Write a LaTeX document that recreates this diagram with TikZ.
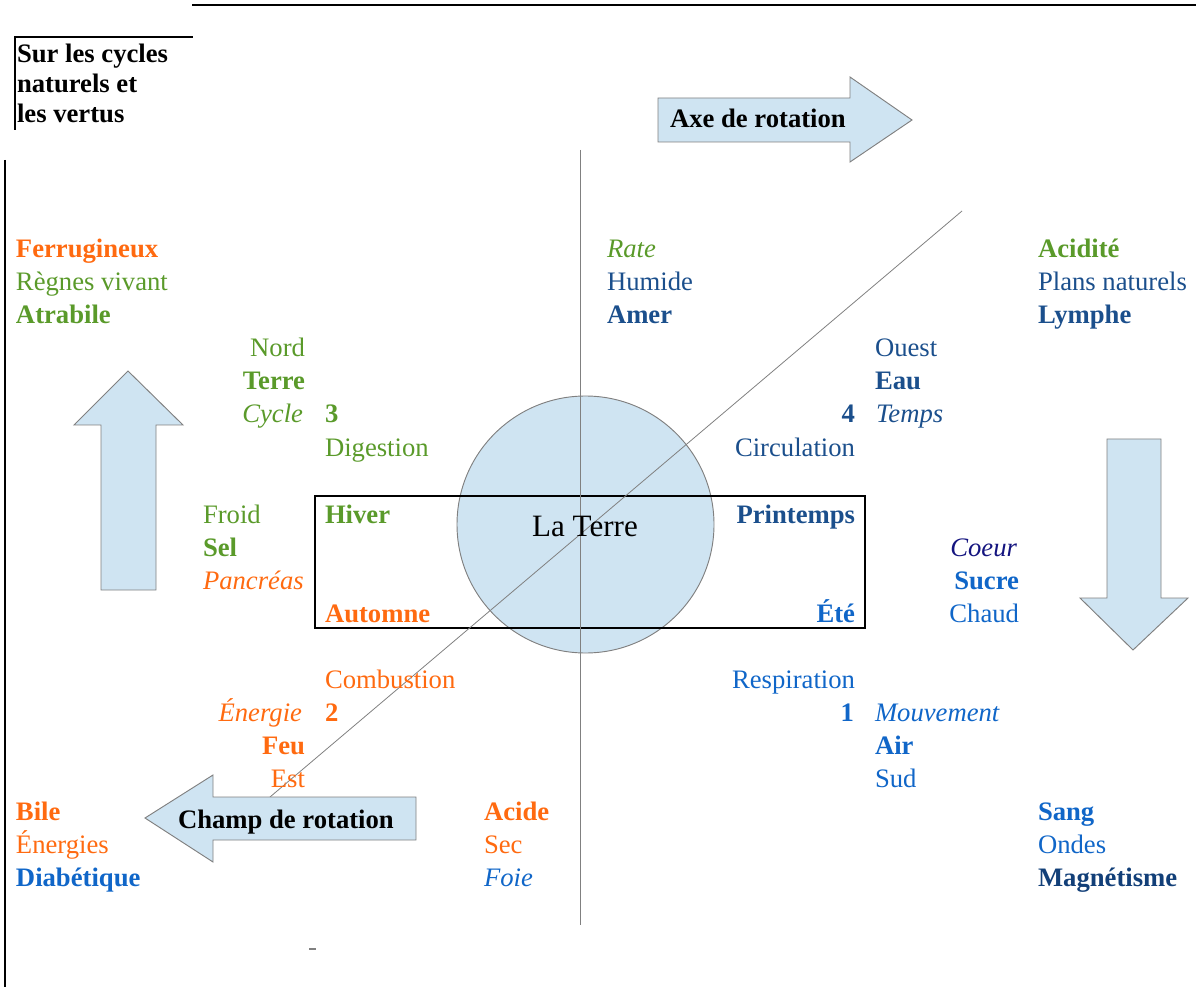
\documentclass[tikz,border=0pt]{standalone}
\usepackage{fontspec}
\setmainfont{Liberation Serif}
\definecolor{vgreen}{HTML}{5A9A2A}
\definecolor{vorange}{HTML}{FF6A10}
\definecolor{dblue}{HTML}{1B4F8C}
\definecolor{mblue}{HTML}{1066C8}
\definecolor{nblue}{HTML}{14147F}
\definecolor{xblue}{HTML}{123F78}
\definecolor{lblue}{HTML}{CFE4F2}
\definecolor{lgray}{HTML}{808080}
\newcommand\basefnt{\fontsize{20}{24.75}\selectfont}
\tikzset{
  txt/.style={inner sep=0pt, outer sep=0pt, font=\basefnt},
  lw/.style={txt, anchor=base west},
  le/.style={txt, anchor=base east},
  bf/.style={font=\basefnt\bfseries},
  it/.style={font=\basefnt\itshape},
  gline/.style={draw=lgray, line width=0.7pt},
  bigarrow/.style={draw=lgray, fill=lblue, line width=0.7pt, line join=miter},
  frame/.style={draw=black, line width=1.5pt}
}
\begin{document}
\begin{tikzpicture}[x=0.75pt,y=-0.75pt]
\useasboundingbox (0,0) rectangle (1196,987);

% frame lines
\draw[frame] (192,5) -- (1196,5);
\draw[frame] (14,37) -- (193,37);
\draw[frame] (15,37) -- (15,130);
\draw[frame] (5,160) -- (5,987);
\draw[draw=lgray, line width=0.8pt] (309,949) -- (316,949);

% title
\node[lw, bf] (title1) at (17,63) {Sur les cycles};
\node[lw, bf] (title2) at (17,93) {naturels et};
\node[lw, bf] (title3) at (17,123) {les vertus};

% centre
\node[circle, draw=lgray, fill=lblue, line width=0.7pt, minimum size=257pt*0.75, inner sep=0pt] (earth) at (585.5,524.5) {};
\draw[frame] (315,496) rectangle (865,628);
\coordinate (vtop) at (580,150);
\coordinate (vbot) at (580,925);
\coordinate (dtop) at (962,211);
\coordinate (dbot) at (270,797);
\draw[gline] (vtop) -- (vbot);
\draw[gline, line width=0.6pt] (dbot) -- (dtop);
\node[txt, font=\fontsize{23.3}{28}\selectfont] (laterre) at (585,526) {La Terre};

% big arrows
\draw[bigarrow] (658,98) -- (850,98) -- (850,77) -- (912,120) -- (850,162) -- (850,142) -- (658,142) -- cycle;
\node[lw, bf] (axe) at (670,128) {Axe de rotation};

\draw[bigarrow] (416,797) -- (213,797) -- (213,775) -- (145,818) -- (213,862) -- (213,840) -- (416,840) -- cycle;
\node[lw, bf] (champ) at (178,828) {Champ de rotation};

\draw[bigarrow] (101,590) -- (101,425) -- (74,425) -- (128,371) -- (183,425) -- (156,425) -- (156,590) -- cycle;
\draw[bigarrow] (1107,439) -- (1161,439) -- (1161,598) -- (1188,598) -- (1133,650) -- (1080,598) -- (1107,598) -- cycle;

% top-left group
\node[lw, bf, text=vorange] (ferr) at (16,258) {Ferrugineux};
\node[lw, text=vgreen] (regnes) at (16,291) {Règnes vivant};
\node[lw, bf, text=vgreen] (atra) at (16,324) {Atrabile};

% top-centre group
\node[lw, it, text=vgreen] (rate) at (607,258) {Rate};
\node[lw, text=dblue] (humide) at (607,291) {Humide};
\node[lw, bf, text=dblue] (amer) at (607,324) {Amer};

% top-right group
\node[lw, bf, text=vgreen] (acidite) at (1038,258) {Acidité};
\node[lw, text=dblue] (plans) at (1038,291) {Plans naturels};
\node[lw, bf, text=dblue] (lymphe) at (1038,324) {Lymphe};

% quadrant 3
\node[le, text=vgreen] (nord) at (305,357) {Nord};
\node[le, bf, text=vgreen] (terre) at (305,390) {Terre};
\node[le, it, text=vgreen] (cycle) at (303,423) {Cycle};
\node[lw, bf, text=vgreen] (n3) at (325,423) {3};
\node[lw, text=vgreen] (digest) at (325,456) {Digestion};

% quadrant 4
\node[lw, text=dblue] (ouest) at (875,357) {Ouest};
\node[lw, bf, text=dblue] (eau) at (875,390) {Eau};
\node[lw, it, text=dblue] (temps) at (876,423) {Temps};
\node[le, bf, text=dblue] (n4) at (855,423) {4};
\node[le, text=dblue] (circ) at (855,456) {Circulation};

% left middle
\node[lw, text=vgreen] (froid) at (203,523) {Froid};
\node[lw, bf, text=vgreen] (sel) at (203,556) {Sel};
\node[lw, it, text=vorange] (pancreas) at (203,589) {Pancréas};

% seasons
\node[lw, bf, text=vgreen] (hiver) at (325,523) {Hiver};
\node[lw, bf, text=vorange] (automne) at (325,622) {Automne};
\node[le, bf, text=dblue] (printemps) at (855,523) {Printemps};
\node[le, bf, text=mblue] (ete) at (855,622) {Été};

% right middle
\node[le, it, text=nblue] (coeur) at (1017,556) {Coeur};
\node[le, bf, text=mblue] (sucre) at (1019,589) {Sucre};
\node[le, text=mblue] (chaud) at (1019,622) {Chaud};

% quadrant 2
\node[lw, text=vorange] (combust) at (325,688) {Combustion};
\node[le, it, text=vorange] (energie) at (302,721) {Énergie};
\node[lw, bf, text=vorange] (n2) at (325,721) {2};
\node[le, bf, text=vorange] (feu) at (305,754) {Feu};
\node[le, text=vorange] (est) at (305,787) {Est};

% quadrant 1
\node[le, text=mblue] (respi) at (855,688) {Respiration};
\node[le, bf, text=mblue] (n1) at (854,721) {1};
\node[lw, it, text=mblue] (mouv) at (875,721) {Mouvement};
\node[lw, bf, text=mblue] (air) at (875,754) {Air};
\node[lw, text=mblue] (sud) at (875,787) {Sud};

% bottom-left group
\node[lw, bf, text=vorange] (bile) at (16,820) {Bile};
\node[lw, text=vorange] (energies) at (16,853) {Énergies};
\node[lw, bf, text=mblue] (diab) at (16,886) {Diabétique};

% bottom-centre group
\node[lw, bf, text=vorange] (acide) at (484,820) {Acide};
\node[lw, text=vorange] (sec) at (484,853) {Sec};
\node[lw, it, text=mblue] (foie) at (484,886) {Foie};

% bottom-right group
\node[lw, bf, text=mblue] (sang) at (1038,820) {Sang};
\node[lw, text=mblue] (ondes) at (1038,853) {Ondes};
\node[lw, bf, text=xblue] (magn) at (1038,886) {Magnétisme};
\end{tikzpicture}
\end{document}
